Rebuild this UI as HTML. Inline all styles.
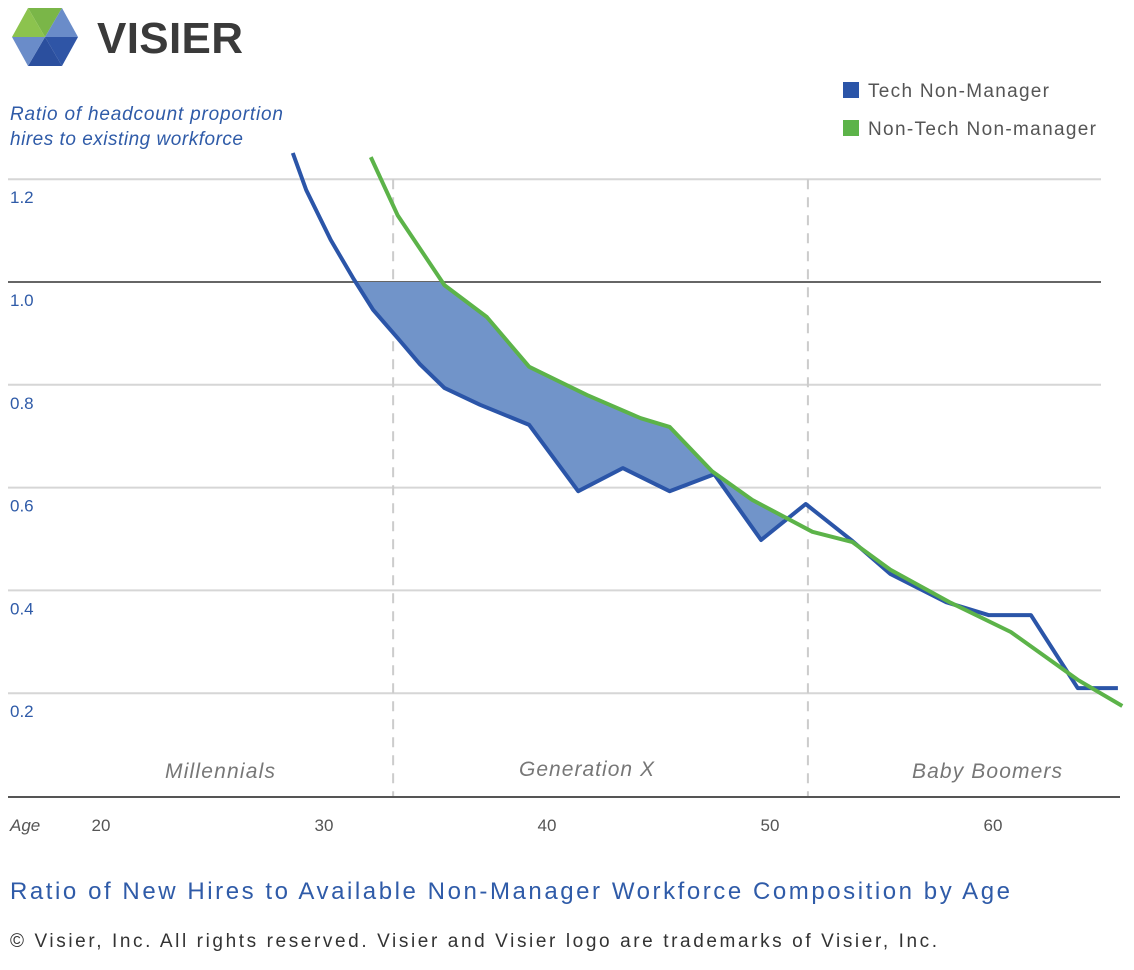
<!DOCTYPE html>
<html><head><meta charset="utf-8"><style>
body{margin:0;background:#fff;}
svg{display:block;font-family:"Liberation Sans",sans-serif;}
</style></head><body>
<svg width="1134" height="970" viewBox="0 0 1134 970">
<g>
 <polygon points="45,37 28,8 62,8" fill="#7ab648"/>
 <polygon points="45,37 12,37 28,8" fill="#8cc34e"/>
 <polygon points="45,37 62,8 78,37" fill="#6a8cc9"/>
 <polygon points="45,37 78,37 62,66" fill="#2f55a6"/>
 <polygon points="45,37 62,66 28,66" fill="#2b4f9e"/>
 <polygon points="45,37 28,66 12,37" fill="#6a8cc9"/>
 <text x="97" y="53" font-size="44" font-weight="bold" fill="#3a3a3a" textLength="146">VISIER</text>
</g>
<text x="10" y="120" font-size="19" font-style="italic" fill="#2f5ba8" textLength="273">Ratio of headcount proportion</text>
<text x="10" y="145" font-size="19" font-style="italic" fill="#2f5ba8" textLength="233">hires to existing workforce</text>
<g>
 <rect x="843" y="82" width="16" height="16" fill="#2b55a8"/>
 <text x="868" y="97" font-size="19" fill="#555" textLength="181">Tech Non-Manager</text>
 <rect x="843" y="120" width="16" height="16" fill="#5cb349"/>
 <text x="868" y="135" font-size="19" fill="#555" textLength="228">Non-Tech Non-manager</text>
</g>
<g id="grid"></g>
<g id="plot"></g>
<line x1="8" y1="797" x2="1120" y2="797" stroke="#555" stroke-width="2"/>
<text x="10" y="831" font-size="17" font-style="italic" fill="#555">Age</text>
<g id="xt"></g>
<text x="165" y="778" font-size="21" font-style="italic" fill="#777" textLength="110">Millennials</text>
<text x="519" y="776" font-size="21" font-style="italic" fill="#777" textLength="135">Generation X</text>
<text x="912" y="778" font-size="21" font-style="italic" fill="#777" textLength="150">Baby Boomers</text>
<text x="10" y="899" font-size="24" fill="#2f5ba8" textLength="1000">Ratio of New Hires to Available Non-Manager Workforce Composition by Age</text>
<text x="10" y="947" font-size="19" fill="#333" textLength="927">© Visier, Inc. All rights reserved. Visier and Visier logo are trademarks of Visier, Inc.</text>
</svg>
<script>
const yTicks=[0.2,0.4,0.6,0.8,1.0,1.2];
const yTickLabels=["0.2","0.4","0.6","0.8","1.0","1.2"];
const xTicks=[20,30,40,50,60];
const genBoundaries=[33.1,51.7];
const techAges=[28.6,29.2,30.3,31.3,32.2,33.3,34.3,35.4,37.0,39.2,41.4,43.4,45.5,47.5,49.6,51.6,53.7,55.4,57.9,59.8,61.7,63.8,65.6];
const techVals=[1.251,1.179,1.082,1.008,0.946,0.891,0.84,0.794,0.761,0.722,0.593,0.638,0.593,0.626,0.498,0.568,0.496,0.432,0.377,0.352,0.352,0.210,0.210];
const nonTechAges=[32.1,33.3,35.4,37.3,39.2,41.8,44.2,45.5,47.4,49.2,51.9,53.7,55.4,58.1,60.8,63.8,65.8];
const nonTechVals=[1.243,1.130,0.994,0.932,0.835,0.780,0.735,0.718,0.632,0.576,0.514,0.494,0.440,0.376,0.319,0.226,0.175];
const NS="http://www.w3.org/2000/svg";
const x=a=>101+(a-20)*22.3;
const y=v=>282-(v-1)*514;
function mk(tag,attrs,parent){const e=document.createElementNS(NS,tag);for(const k in attrs)e.setAttribute(k,attrs[k]);parent.appendChild(e);return e;}
const grid=document.getElementById('grid'),plot=document.getElementById('plot'),xt=document.getElementById('xt');
yTicks.forEach((t,i)=>{
 const l=mk('line',{x1:8,x2:1101,y1:y(t),y2:y(t),stroke:t===1?'#666':'#d6d6d6','stroke-width':2},grid);
 
 
 const tx=mk('text',{x:10,y:y(t)+24,'font-size':17,fill:'#2f5ba8'},grid);
 tx.textContent=yTickLabels[i];
 
 
});
genBoundaries.forEach(a=>{
 const l=mk('line',{x1:x(a),x2:x(a),y1:y(1.2),y2:797,stroke:'#ccc','stroke-width':2,'stroke-dasharray':'10,8'},grid);
 
 
});
xTicks.forEach(t=>{
 const tx=mk('text',{x:x(t),y:831,'font-size':17,fill:'#555','text-anchor':'middle'},xt);
 tx.textContent=t;
 
 
});
const pts=(A,V)=>A.map((a,i)=>x(a).toFixed(1)+','+y(V[i]).toFixed(1)).join(' ');
const defs=mk('defs',{},plot);
const c1=mk('clipPath',{id:'belowGreen'},defs);
mk('polygon',{points:pts(nonTechAges,nonTechVals)+' '+x(nonTechAges[nonTechAges.length-1])+',900 0,900 0,0 '+x(nonTechAges[0])+',0'},c1);
const c2=mk('clipPath',{id:'box'},defs);
mk('rect',{x:0,y:y(1),width:x(50.6),height:600},c2);
const g1=mk('g',{'clip-path':'url(#box)'},plot);
const g2=mk('g',{'clip-path':'url(#belowGreen)'},g1);
const fill=mk('polygon',{points:pts(techAges,techVals)+' '+x(techAges[techAges.length-1])+',0 '+x(techAges[0])+',0',fill:'#7194c9'},g2);


const tl=mk('polyline',{points:pts(techAges,techVals),fill:'none',stroke:'#2b55a8','stroke-width':4,'stroke-linejoin':'round'},plot);


const gl=mk('polyline',{points:pts(nonTechAges,nonTechVals),fill:'none',stroke:'#5cb349','stroke-width':4,'stroke-linejoin':'round'},plot);


</script>
</body></html>
